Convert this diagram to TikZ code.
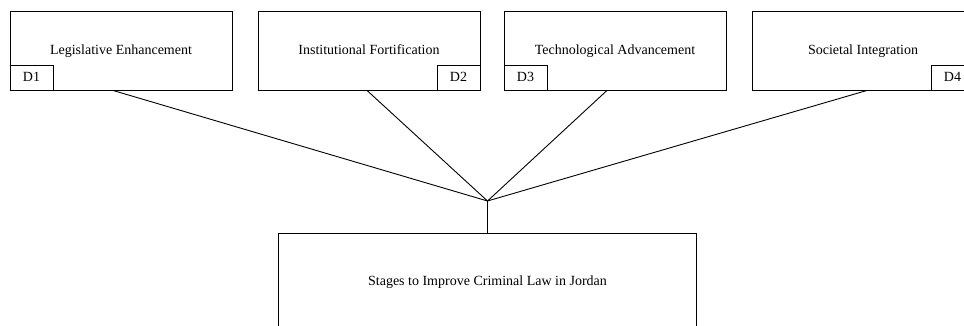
\documentclass[tikz,border=0pt]{standalone}
\usepackage{fontspec}
\setmainfont{Liberation Serif}
\usetikzlibrary{calc}
\begin{document}
\begin{tikzpicture}[x=1pt,y=-1pt,line width=0.9pt,
  txt/.style={font=\fontsize{14}{16}\selectfont,text height=12pt,text depth=3pt},
  dimbox/.style={draw,rectangle,minimum width=222pt,minimum height=79pt,inner sep=0pt,txt},
  tabbox/.style={draw,rectangle,minimum width=43pt,minimum height=25pt,inner sep=0pt,txt},
  rootbox/.style={draw,rectangle,minimum width=418pt,minimum height=96pt,inner sep=0pt,txt},
  link/.style={draw}]
\useasboundingbox (0,0) rectangle (964,326);
\clip (0,0) rectangle (964,326);
\node[dimbox] (b1) at (121,50.5) {Legislative Enhancement};
\node[dimbox] (b2) at (369,50.5) {Institutional Fortification};
\node[dimbox] (b3) at (615,50.5) {Technological Advancement};
\node[dimbox] (b4) at (863,50.5) {Societal Integration};
\node[tabbox,anchor=south west] (d1) at (b1.south west) {D1};
\node[tabbox,anchor=south east] (d2) at (b2.south east) {D2};
\node[tabbox,anchor=south west] (d3) at (b3.south west) {D3};
\node[tabbox,anchor=south east] (d4) at (b4.south east) {D4};
\node[rootbox,anchor=north] (root) at (487.5,233) {Stages to Improve Criminal Law in Jordan};
\coordinate (j) at (487.5,201);
\draw[link] ($(b1.south)+(-8,0)$) -- (j);
\draw[link] ($(b2.south)+(-2,0)$) -- (j);
\draw[link] ($(b3.south)+(-8,0)$) -- (j);
\draw[link] ($(b4.south)+(4,0)$) -- (j);
\draw[link] (j) -- (root.north);
\end{tikzpicture}
\end{document}
